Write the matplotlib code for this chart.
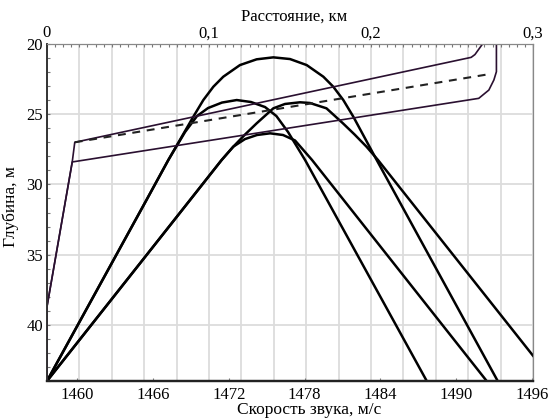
import numpy as np
import matplotlib
matplotlib.use('Agg')
import matplotlib.pyplot as plt
from matplotlib.ticker import MultipleLocator, FixedLocator, FixedFormatter

plt.rcParams['font.family'] = ['Liberation Serif', 'DejaVu Serif']

# Профили скорости звука: скорость (м/с) и глубина (м)
c_upper = [1457.6, 1457.6, 1459.6, 1459.8, 1491.2, 1491.5, 1492.1]
z_upper = [44.0, 38.7, 28.4, 27.0, 20.95, 20.75, 20.0]
c_lower = [1457.6, 1457.6, 1459.6, 1491.8, 1492.6, 1493.0, 1493.2, 1493.2]
z_lower = [44.0, 38.7, 28.4, 23.87, 23.28, 22.56, 21.97, 20.0]
c_mid = [1459.8, 1492.6]
z_mid = [27.0, 22.15]

# Лучи: расстояние (км) и глубина (м)
ray_a_r = [0.0, 0.0614, 0.0749, 0.0903, 0.0965, 0.1027, 0.1088, 0.1191, 0.1294, 0.1397,
           0.1500, 0.1603, 0.1706, 0.1767, 0.1829, 0.1891, 0.2035, 0.2782]
ray_a_z = [44.0, 31.11, 28.26, 25.18, 23.99, 23.04, 22.33, 21.50, 21.09, 20.95,
           21.07, 21.50, 22.33, 23.04, 23.99, 25.18, 28.26, 44.0]
ray_b_r = [0.0, 0.0614, 0.0749, 0.0852, 0.0926, 0.0994, 0.1080, 0.1171, 0.1259, 0.1346,
           0.1416, 0.1488, 0.1593, 0.2344]
ray_b_z = [44.0, 31.11, 28.26, 26.27, 25.13, 24.56, 24.17, 23.99, 24.13, 24.49,
           25.13, 26.27, 28.26, 44.0]
ray_c_r = [0.0, 0.0883, 0.1078, 0.1150, 0.1222, 0.1294, 0.1397, 0.1469, 0.1562, 0.1623,
           0.1725, 0.1827, 0.1899, 0.1972, 0.2043, 0.2858, 0.3]
ray_c_z = [44.0, 31.11, 28.26, 27.31, 26.45, 25.65, 24.58, 24.27, 24.15, 24.20,
           24.58, 25.65, 26.45, 27.31, 28.26, 40.13, 42.2]
ray_d_r = [0.0, 0.0883, 0.1078, 0.1150, 0.1222, 0.1296, 0.1377, 0.1457, 0.1531, 0.1636, 0.2714]
ray_d_z = [44.0, 31.11, 28.26, 27.31, 26.77, 26.48, 26.36, 26.48, 26.87, 28.26, 44.0]

speed_ticks = [1460, 1466, 1472, 1478, 1484, 1490, 1496]
dist_ticks = [0.0, 0.1, 0.2, 0.3]
dist_labels = ['0', '0,1', '0,2', '0,3']
depth_ticks = [20, 25, 30, 35, 40]

fig = plt.figure(figsize=(5.49, 4.18), dpi=100)
ax = fig.add_axes([0.0856, 0.0885, 0.8853, 0.8062])
ax_s = ax.twiny()

# Лучи на оси расстояния (сверху)
for r, z in [(ray_a_r, ray_a_z), (ray_b_r, ray_b_z), (ray_c_r, ray_c_z), (ray_d_r, ray_d_z)]:
    ax.plot(r, z, color='black', lw=1.8, solid_joinstyle='round')

ax.set_xlim(0, 0.3)
ax.set_ylim(44, 20)
ax.xaxis.tick_top()
ax.xaxis.set_label_position('top')
grid_x = np.round(np.arange(0, 0.3001, 0.02), 3)
ax.xaxis.set_major_locator(FixedLocator(grid_x))
ax.xaxis.set_major_formatter(FixedFormatter(
    [dist_labels[dist_ticks.index(v)] if v in dist_ticks else '' for v in grid_x]))
ax.xaxis.set_minor_locator(MultipleLocator(0.005))
ax.set_yticks(depth_ticks)
ax.yaxis.set_minor_locator(MultipleLocator(1))
ax.set_axisbelow(True)
ax.grid(True, color='#dcdcdc', lw=1.3)
ax.tick_params(axis='x', which='both', direction='in', length=2, width=0.8,
               color='#777777', pad=2, labelsize=12)
ax.tick_params(axis='y', which='both', direction='in', length=2, width=0.8,
               color='#777777', pad=3, labelsize=12)
ax.set_xlabel('Расстояние, км', fontsize=12)
ax.xaxis.set_label_coords(0.508, 1.07)
ax.set_ylabel('Глубина, м', fontsize=12.5)
ax.yaxis.set_label_coords(-0.058, 0.518)

# Профили скорости звука на оси скорости (снизу)
ax_s.plot(c_upper, z_upper, color='#2a1030', lw=1.2)
ax_s.plot(c_lower, z_lower, color='#2a1030', lw=1.2)
ax_s.plot(c_mid, z_mid, color='#222222', lw=1.5, dashes=(3.8, 3.2))
ax_s.set_xlim(1457.6, 1496.1)
ax_s.set_ylim(44, 20)
ax_s.xaxis.tick_bottom()
ax_s.xaxis.set_label_position('bottom')
ax_s.set_xticks(speed_ticks)
ax_s.tick_params(axis='x', direction='in', length=2, color='#777777', pad=4, labelsize=12)
ax_s.set_xlabel('Скорость звука, м/с', fontsize=12.5)
ax_s.xaxis.set_label_coords(0.54, -0.062)

for a in (ax, ax_s):
    a.spines['left'].set_color('#333333')
    a.spines['bottom'].set_color('#222222')
    a.spines['bottom'].set_linewidth(1.6)
    a.spines['left'].set_linewidth(1.2)
    a.spines['top'].set_color('#888888')
    a.spines['right'].set_color('#888888')

fig.savefig('out.png', dpi=100)
